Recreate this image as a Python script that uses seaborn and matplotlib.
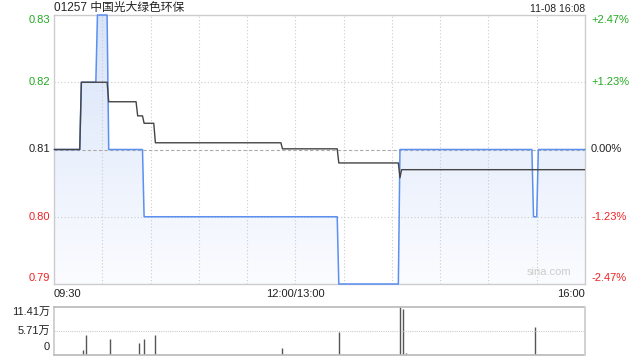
import numpy as np
import pandas as pd
import matplotlib
matplotlib.use("Agg")
import matplotlib.pyplot as plt
import seaborn as sns
from matplotlib.colors import LinearSegmentedColormap

# ---- data ----
title_text = "01257 中国光大绿色环保"
stamp_text = "11-08 16:08"
prev_close = 0.81
price_minutes = [0, 16, 17, 26, 27, 33, 34, 55, 56, 176, 177, 214, 215, 297, 298, 300, 301, 330]
price_values = [0.81, 0.81, 0.82, 0.82, 0.83, 0.83, 0.81, 0.81, 0.80, 0.80, 0.79, 0.79,
                0.81, 0.81, 0.80, 0.80, 0.81, 0.81]
avg_minutes = [0, 16, 17, 33, 34, 51, 52, 55, 56, 62, 63, 141, 142, 176, 177, 214, 215, 216, 330]
avg_values = [0.81, 0.81, 0.82, 0.82, 0.8171, 0.8171, 0.815, 0.815, 0.8139, 0.8139, 0.811,
              0.811, 0.8101, 0.8101, 0.808, 0.808, 0.8058, 0.807, 0.807]
vol_minutes = [18, 20, 35, 53, 56, 63, 142, 177, 215, 217, 219, 299, 302]
vol_values = [12000, 47500, 38700, 28500, 38700, 47500, 17400, 54700, 114100, 110000, 5000, 65800, 3000]
left_ticks = [0.83, 0.82, 0.81, 0.80, 0.79]
left_labels = ["0.83", "0.82", "0.81", "0.80", "0.79"]
right_labels = ["+2.47%", "+1.23%", "0.00%", "-1.23%", "-2.47%"]
tick_colors = ["#22aa22", "#22aa22", "#222222", "#ee2222", "#ee2222"]
x_tick_pos = [0, 150, 330]
x_tick_labels = ["09:30", "12:00/13:00", "16:00"]
vol_ticks = [114100, 57100, 0]
vol_labels = ["11.41万", "5.71万", "0"]

sns.set_theme(style="white")
plt.rcParams['font.family'] = ['Liberation Sans', 'Noto Sans CJK SC', 'DejaVu Sans']

fig = plt.figure(figsize=(6.4, 3.6), dpi=100)
W, H = 640, 360
ax = fig.add_axes([54 / W, 1 - 284 / H, 531 / W, 269 / H])
axv = fig.add_axes([54 / W, 1 - 355 / H, 531 / W, 48 / H])

ymin, ymax = 0.79, 0.83
ax.set_xlim(0, 330)
ax.set_ylim(ymin, ymax)

# gradient fill under price
poly = ax.fill_between(price_minutes, price_values, ymin, color="none", lw=0)
grad = np.linspace(0, 1, 256).reshape(-1, 1)
cmap = LinearSegmentedColormap.from_list("g", ["#fbfcff", "#d8e4fa"])
im = ax.imshow(grad, extent=[0, 330, ymin, ymax], origin="lower", aspect="auto",
               cmap=cmap, zorder=1)
im.set_clip_path(poly.get_paths()[0], transform=ax.transData)

# grid
for t in range(30, 330, 30):
    ax.axvline(t, color="#cccccc", lw=0.8, ls=(0, (1, 2)), zorder=2)
for yv in [0.82, 0.80]:
    ax.axhline(yv, color="#cccccc", lw=0.8, ls=(0, (1, 2)), zorder=2)
ax.axhline(prev_close, color="#aaaaaa", lw=0.8, ls=(0, (3, 2)), zorder=2)

df_p = pd.DataFrame({"m": price_minutes, "p": price_values})
df_a = pd.DataFrame({"m": avg_minutes, "p": avg_values})
sns.lineplot(data=df_p, x="m", y="p", ax=ax, color="#5b8ff0", lw=1.1, estimator=None,
             sort=False, zorder=4, clip_on=False)
sns.lineplot(data=df_a, x="m", y="p", ax=ax, color="#444444", lw=1.0, estimator=None,
             sort=False, zorder=5)

ax.set_xlabel("")
ax.set_ylabel("")
ax.set_xticks([])
ax.set_yticks([])
for s in ax.spines.values():
    s.set_color("#cccccc")
    s.set_linewidth(1.0)

# left/right tick labels
offsets = [-5, 0, 0, 0, 6]
for yv, lab, rl, c, off in zip(left_ticks, left_labels, right_labels, tick_colors, offsets):
    ax.annotate(lab, xy=(0, yv), xycoords=("axes fraction", "data"), xytext=(-4, off),
                textcoords="offset pixels", ha="right", va="center", fontsize=8, color=c)
    ax.annotate(rl, xy=(1, yv), xycoords=("axes fraction", "data"), xytext=(6, off),
                textcoords="offset pixels", ha="left", va="center", fontsize=8, color=c)

# x labels
has = ["left", "center", "right"]
for xp, lab, ha in zip(x_tick_pos, x_tick_labels, has):
    ax.annotate(lab, xy=(xp, 0), xycoords=("data", "axes fraction"), xytext=(0, -10),
                textcoords="offset pixels", ha=ha, va="center", fontsize=8, color="#222222")

ax.text(0.0, 1.005, title_text, transform=ax.transAxes, ha="left", va="bottom",
        fontsize=8.5, color="#222222")
ax.text(1.0, 1.005, stamp_text, transform=ax.transAxes, ha="right", va="bottom",
        fontsize=7.5, color="#222222")
ax.text(0.975, 0.025, "sina.com", transform=ax.transAxes, ha="right", va="bottom",
        fontsize=8, color="#cccccc", zorder=6)

# volume
axv.set_xlim(0, 330)
axv.set_ylim(0, 114100)
axv.vlines(vol_minutes, 0, vol_values, color="#555555", lw=1.0)
axv.axhline(57100, color="#cccccc", lw=0.8, ls=(0, (1, 1)))
axv.set_xticks([])
axv.set_yticks([])
for k in ["top", "bottom"]:
    axv.spines[k].set_linestyle((0, (1, 1)))
    axv.spines[k].set_color("#bbbbbb")
for k in ["left", "right"]:
    axv.spines[k].set_color("#cccccc")
voffs = [-5, 0, 8]
for yv, lab, off in zip(vol_ticks, vol_labels, voffs):
    axv.annotate(lab, xy=(0, yv), xycoords=("axes fraction", "data"), xytext=(-4, off),
                 textcoords="offset pixels", ha="right", va="center", fontsize=8, color="#222222")

fig.savefig("out.png", dpi=100)
